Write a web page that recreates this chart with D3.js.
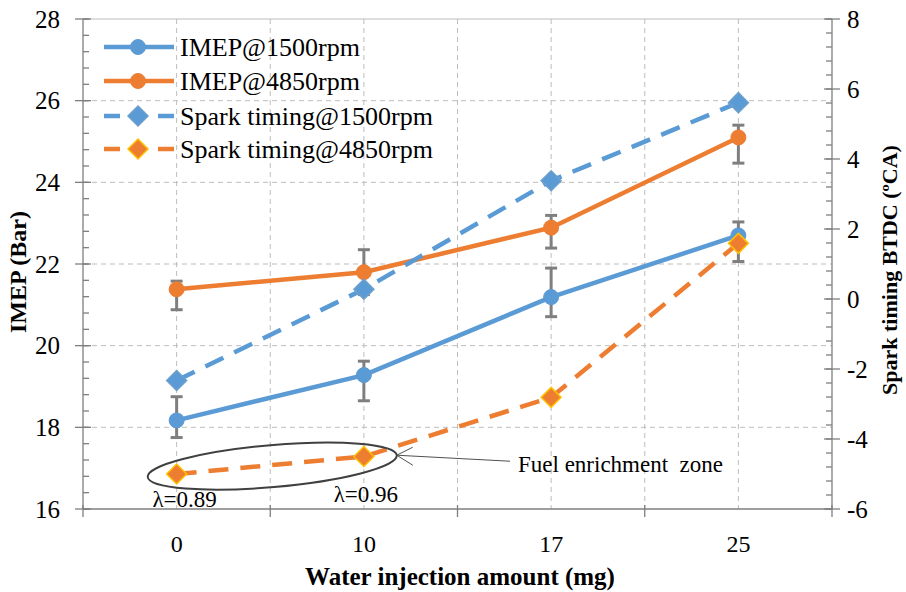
<!DOCTYPE html>
<html>
<head>
<meta charset="utf-8">
<script src="https://cdn.jsdelivr.net/npm/d3@7"></script>
<style>
body { margin: 0; background: #fff; }
text { font-family: "Liberation Serif", "Times New Roman", serif; fill: #000; }
</style>
</head>
<body>
<div id="chart"></div>
<script>
var categories = ["0", "10", "17", "25"]
var imep1500 = [18.17, 19.28, 21.19, 22.7]
var imep1500Hi = [18.75, 19.62, 21.9, 23.03]
var imep1500Lo = [17.75, 18.65, 20.71, 22.06]
var imep4850 = [21.38, 21.8, 22.89, 25.1]
var imep4850Hi = [21.58, 22.35, 23.19, 25.4]
var imep4850Lo = [20.88, 21.25, 22.39, 24.47]
var spark1500 = [-2.33, 0.28, 3.38, 5.61]
var spark4850 = [-5.0, -4.5, -2.81, 1.59]
var leftTicks = [16, 18, 20, 22, 24, 26, 28]
var rightTicks = [-6, -4, -2, 0, 2, 4, 6, 8]
var legendNames = ["IMEP@1500rpm", "IMEP@4850rpm", "Spark timing@1500rpm", "Spark timing@4850rpm"]

var width = 906
var height = 592
var pL = 83, pR = 832, pT = 19, pB = 509
var blue = "#5b9bd5", orange = "#ed7d31", grey = "#7f7f7f"

var svg = d3.select("#chart").append("svg")
	.attr("width", width)
	.attr("height", height)

var xb = d3.scaleBand().domain(categories).range([pL, pR])
var x = function(c){ return xb(c) + xb.bandwidth() / 2 }
var yL = d3.scaleLinear().domain([16, 28]).range([pB, pT])
var yR = d3.scaleLinear().domain([-6, 8]).range([pB, pT])

// grid
var grid = svg.append("g")
grid.selectAll("line.h")
	.data(leftTicks.filter(function(t){ return t > 16 && t < 28 })).enter()
	.append("line")
	  .attr("x1", pL).attr("x2", pR)
	  .attr("y1", yL).attr("y2", yL)
	  .attr("stroke", "#bdbdbd")
	  .attr("stroke-dasharray", "5,4")
var vx = categories.map(x).concat(categories.slice(1).map(function(c){ return xb(c) }))
grid.selectAll("line.v")
	.data(vx).enter()
	.append("line")
	  .attr("x1", function(d){ return d }).attr("x2", function(d){ return d })
	  .attr("y1", pT).attr("y2", pB)
	  .attr("stroke", "#bdbdbd")
	  .attr("stroke-dasharray", "5,4")
grid.append("line")
	.attr("x1", pL).attr("x2", pR)
	.attr("y1", pT).attr("y2", pT)
	.attr("stroke", "#bdbdbd")

// axes
function minor(lo, hi){
	var a = []
	for (var i = 0; i <= (hi - lo) / 0.4 + 0.001; i++) a.push(lo + i * 0.4)
	return a
}
var ax = svg.append("g").attr("stroke", grey).attr("stroke-width", 1.3)
ax.append("line").attr("x1", pL).attr("x2", pL).attr("y1", pT).attr("y2", pB)
ax.append("line").attr("x1", pR).attr("x2", pR).attr("y1", pT).attr("y2", pB)
ax.append("line").attr("x1", pL).attr("x2", pR).attr("y1", pB).attr("y2", pB)
ax.selectAll("line.lminor")
	.data(minor(16, 28)).enter()
	.append("line")
	  .attr("x1", pL).attr("x2", pL + 6)
	  .attr("y1", yL).attr("y2", yL)
ax.selectAll("line.lmajor")
	.data(leftTicks).enter()
	.append("line")
	  .attr("x1", pL - 8).attr("x2", pL + 8)
	  .attr("y1", yL).attr("y2", yL)
ax.selectAll("line.rminor")
	.data(minor(-6, 8)).enter()
	.append("line")
	  .attr("x1", pR - 6).attr("x2", pR)
	  .attr("y1", yR).attr("y2", yR)
ax.selectAll("line.rmajor")
	.data(rightTicks).enter()
	.append("line")
	  .attr("x1", pR - 8).attr("x2", pR + 8)
	  .attr("y1", yR).attr("y2", yR)
ax.selectAll("line.xt")
	.data(categories.map(function(c){ return xb(c) }).concat([pR])).enter()
	.append("line")
	  .attr("x1", function(d){ return d }).attr("x2", function(d){ return d })
	  .attr("y1", pB - 4).attr("y2", pB + 8)

svg.selectAll("text.ly")
	.data(leftTicks).enter()
	.append("text")
	  .attr("x", 60).attr("y", yL).attr("dy", "0.34em")
	  .attr("text-anchor", "end")
	  .attr("font-size", 25)
	  .text(function(d){ return d })
svg.selectAll("text.ry")
	.data(rightTicks).enter()
	.append("text")
	  .attr("x", 847).attr("y", yR).attr("dy", "0.34em")
	  .attr("font-size", 25)
	  .text(function(d){ return d })
svg.selectAll("text.xl")
	.data(categories).enter()
	.append("text")
	  .attr("x", x).attr("y", 552)
	  .attr("text-anchor", "middle")
	  .attr("font-size", 24)
	  .text(function(d){ return d })

svg.append("text")
	.attr("x", 460).attr("y", 585)
	.attr("text-anchor", "middle")
	.attr("font-size", 25).attr("font-weight", "bold")
	.text("Water injection amount (mg)")
svg.append("text")
	.attr("transform", "translate(26,272) rotate(-90)")
	.attr("text-anchor", "middle")
	.attr("font-size", 24).attr("font-weight", "bold")
	.text("IMEP (Bar)")
svg.append("text")
	.attr("transform", "translate(897,270) rotate(-90)")
	.attr("text-anchor", "middle")
	.attr("font-size", 22).attr("font-weight", "bold")
	.text("Spark timing BTDC (ºCA)")

// series
var series = [
	{name: legendNames[0], v: imep1500, hi: imep1500Hi, lo: imep1500Lo, y: yL, c: blue, dash: null, m: "circle"},
	{name: legendNames[1], v: imep4850, hi: imep4850Hi, lo: imep4850Lo, y: yL, c: orange, dash: null, m: "circle"},
	{name: legendNames[2], v: spark1500, y: yR, c: blue, dash: "20,12", m: "diamond"},
	{name: legendNames[3], v: spark4850, y: yR, c: orange, dash: "20,12", m: "diamond"}
]

function marker(g, s, cx, cy){
	if (s.m == "circle") {
		g.append("circle").attr("cx", cx).attr("cy", cy).attr("r", 7.5)
		  .attr("fill", s.c).attr("stroke", s.c)
	} else {
		var r = 10
		g.append("path")
		  .attr("d", "M" + cx + "," + (cy - r) + "L" + (cx + r) + "," + cy + "L" + cx + "," + (cy + r) + "L" + (cx - r) + "," + cy + "Z")
		  .attr("fill", s.c)
		  .attr("stroke", s.c == orange ? "#ffc000" : "#6d9fcc")
		  .attr("stroke-width", 1.5)
	}
}

series.forEach(function(s){
	var pts = categories.map(function(c, i){ return [x(c), s.y(s.v[i])] })
	svg.append("path")
	  .attr("d", d3.line()(pts))
	  .attr("fill", "none")
	  .attr("stroke", s.c)
	  .attr("stroke-width", 4.5)
	  .attr("stroke-dasharray", s.dash)
})
series.forEach(function(s){
	var g = svg.append("g")
	if (s.hi) {
		categories.forEach(function(c, i){
			var cx = x(c)
			g.append("line").attr("x1", cx).attr("x2", cx)
			  .attr("y1", s.y(s.hi[i])).attr("y2", s.y(s.lo[i]))
			  .attr("stroke", grey).attr("stroke-width", 3)
			;[s.hi[i], s.lo[i]].forEach(function(v){
				g.append("line").attr("x1", cx - 6).attr("x2", cx + 6)
				  .attr("y1", s.y(v)).attr("y2", s.y(v))
				  .attr("stroke", grey).attr("stroke-width", 3)
			})
		})
	}
	categories.forEach(function(c, i){ marker(g, s, x(c), s.y(s.v[i])) })
})

// legend
var lg = svg.append("g")
series.forEach(function(s, i){
	var ly = [47, 81, 116, 149][i]
	lg.append("line").attr("x1", 104).attr("x2", 174).attr("y1", ly).attr("y2", ly)
	  .attr("stroke", s.c).attr("stroke-width", 4.5)
	  .attr("stroke-dasharray", s.dash ? "16,38" : null)
	marker(lg, s, 138, ly)
	lg.append("text").attr("x", 180).attr("y", ly).attr("dy", "0.33em")
	  .attr("font-size", 26)
	  .text(s.name)
})

// annotation
var ecx = (x("0") + x("10")) / 2 + 2, ecy = yL(17.05)
var erx = 125, ery = 21, ang = -5
svg.append("ellipse")
	.attr("cx", 0).attr("cy", 0).attr("rx", erx).attr("ry", ery)
	.attr("transform", "translate(" + ecx + "," + ecy + ") rotate(" + ang + ")")
	.attr("fill", "none").attr("stroke", "#404040").attr("stroke-width", 2)
var tipX = ecx + erx * Math.cos(ang * Math.PI / 180)
var tipY = ecy + erx * Math.sin(ang * Math.PI / 180)
svg.append("path")
	.attr("d", "M510," + (tipY + 6) + "L" + tipX + "," + tipY +
	  "M" + (tipX + 16) + "," + (tipY - 8) + "L" + tipX + "," + tipY + "L" + (tipX + 16) + "," + (tipY + 10))
	.attr("fill", "none").attr("stroke", "#505050").attr("stroke-width", 1)
svg.append("text")
	.attr("x", 518).attr("y", 472)
	.attr("font-size", 23)
	.style("white-space", "pre")
	.text("Fuel enrichment  zone")
svg.append("text")
	.attr("x", x("0") + 8).attr("y", 507)
	.attr("text-anchor", "middle")
	.attr("font-size", 23)
	.text("λ=0.89")
svg.append("text")
	.attr("x", x("10") + 2).attr("y", 502)
	.attr("text-anchor", "middle")
	.attr("font-size", 23)
	.text("λ=0.96")
</script>
</body>
</html>
